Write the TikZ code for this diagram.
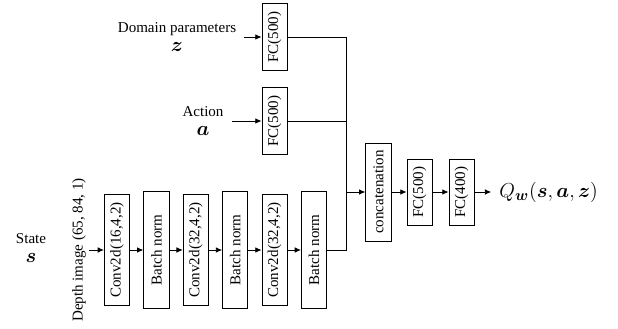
\documentclass[tikz,border=0pt]{standalone}
\usepackage{amsmath}
\usepackage{fontspec}
\setmainfont{Liberation Serif}
\usetikzlibrary{arrows.meta}

\tikzset{
	schicht/.style={draw, line width=0.6pt, rotate=90, minimum height=0.63cm, inner sep=1pt},
	eingang/.style={align=center, inner sep=0.2cm},
	pfeil/.style={-{Latex[length=4.5pt,width=4pt]}, line width=0.6pt},
	linie/.style={line width=0.6pt}
}
\newcommand{\mathgross}[1]{{\fontsize{14}{14}\selectfont$\boldsymbol{#1}$}}

\begin{document}
\begin{tikzpicture}[every node/.style={font=\fontsize{10.7}{12.8}\selectfont}]
	
	% Rahmen des Bildes
	\useasboundingbox (0,0) rectangle (15.45,8.2);
	
	% Eingaenge (Beschriftungen links)
	\node[align=center] (state) at (0.775,2.0) {State\\[1pt]\mathgross{s}};
	\node[rotate=90, inner sep=2pt] (depth) at (1.975,1.95) {Depth image (65, 84, 1)};
	\node[eingang] (domain) at (4.425,7.275) {Domain parameters\\[1pt]\mathgross{z}};
	\node[eingang] (action) at (5.075,5.175) {Action\\[1pt]\mathgross{a}};
	
	% Faltungsschichten (untere Reihe)
	\node[schicht, minimum width=2.775cm] (conv1) at (2.925,1.95) {Conv2d(16,4,2)};
	\node[schicht, minimum width=2.925cm] (bn1) at (3.91,1.95) {Batch norm};
	\node[schicht, minimum width=2.775cm] (conv2) at (4.895,1.95) {Conv2d(32,4,2)};
	\node[schicht, minimum width=2.925cm] (bn2) at (5.88,1.95) {Batch norm};
	\node[schicht, minimum width=2.775cm] (conv3) at (6.865,1.95) {Conv2d(32,4,2)};
	\node[schicht, minimum width=2.925cm] (bn3) at (7.85,1.95) {Batch norm};
	
	% FC-Schichten fuer z und a
	\node[schicht, minimum width=1.675cm] (fcz) at (6.865,7.275) {FC(500)};
	\node[schicht, minimum width=1.675cm] (fca) at (6.865,5.175) {FC(500)};
	
	% Zusammenfuehrung und Ausgang
	\coordinate (merge) at (8.65,3.4);
	\node[schicht, minimum width=2.45cm] (concat) at (9.46,3.4) {concatenation};
	\node[schicht, minimum width=1.65cm] (fc5) at (10.49,3.4) {FC(500)};
	\node[schicht, minimum width=1.65cm] (fc4) at (11.54,3.4) {FC(400)};
	\node[anchor=west, inner sep=0.2cm, font=\fontsize{15}{18}\selectfont] (qout) at (12.28,3.4) {$Q_{\boldsymbol{w}}(\boldsymbol{s},\boldsymbol{a},\boldsymbol{z})$};
	
	% Pfeile
	\draw[pfeil] (depth) -- (conv1);
	\draw[pfeil] (conv1) -- (bn1);
	\draw[pfeil] (bn1) -- (conv2);
	\draw[pfeil] (conv2) -- (bn2);
	\draw[pfeil] (bn2) -- (conv3);
	\draw[pfeil] (conv3) -- (bn3);
	\draw[pfeil] (domain) -- (fcz);
	\draw[pfeil] (action) -- (fca);
	
	% Linien zur Zusammenfuehrung
	\draw[linie] (fcz) -| (merge);
	\draw[linie] (fca) -| (merge);
	\draw[linie] (bn3) -| (merge);
	\draw[pfeil] (merge) -- (concat);
	\draw[pfeil] (concat) -- (fc5);
	\draw[pfeil] (fc5) -- (fc4);
	\draw[pfeil] (fc4) -- (qout);
	
\end{tikzpicture}
\end{document}
